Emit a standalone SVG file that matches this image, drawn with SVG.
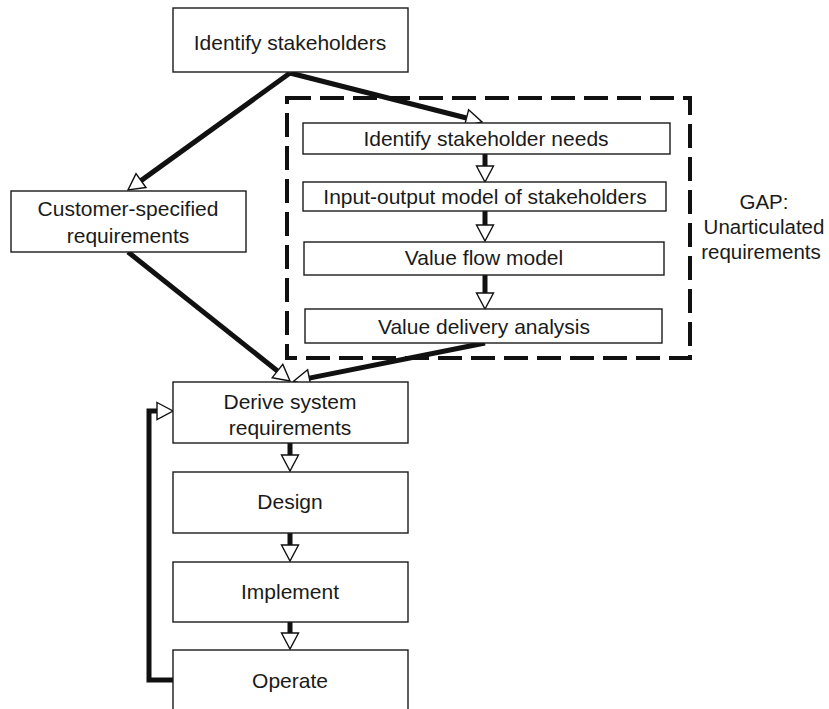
<svg xmlns="http://www.w3.org/2000/svg" width="829" height="709" viewBox="0 0 829 709">
<style>
.box{fill:#fff;stroke:#1a1a1a;stroke-width:1.4}
.t{font-family:"Liberation Sans",Arial,sans-serif;font-size:21px;fill:#1a1a1a;text-anchor:middle}
.g{font-size:20.5px}
.c{fill:none;stroke:#111;stroke-width:5}
.dash{fill:none;stroke:#111;stroke-width:4;stroke-dasharray:24 9}
</style>
<defs>
<marker id="ah" markerUnits="userSpaceOnUse" markerWidth="20" markerHeight="20" viewBox="-1 -10 19 20" refX="0" refY="0" orient="auto" overflow="visible">
<path d="M0,-8.5 L16,0 L0,8.5 Z" fill="#fff" stroke="#111" stroke-width="1.4"/>
</marker>
</defs>
<rect width="829" height="709" fill="#fff"/>
<g id="gap">
<rect class="dash" x="287" y="98" width="403" height="260"/>
<text class="t g" x="764" y="209">GAP:</text>
<text class="t g" x="764" y="234">Unarticulated</text>
<text class="t g" x="761" y="259">requirements</text>
</g>
<g id="connectors">
<path class="c" d="M290,73 L141,180.6" marker-end="url(#ah)"/>
<path class="c" d="M290,73 L466.5,118" marker-end="url(#ah)"/>
<path class="c" d="M128,252 L277.5,371" marker-end="url(#ah)"/>
<path class="c" d="M485,343 L309.3,378.1" marker-end="url(#ah)"/>
<path class="c" d="M485,154 V166" marker-end="url(#ah)"/>
<path class="c" d="M485,211 V225" marker-end="url(#ah)"/>
<path class="c" d="M485,275 V293" marker-end="url(#ah)"/>
<path class="c" d="M290,443 V455" marker-end="url(#ah)"/>
<path class="c" d="M290,533 V545" marker-end="url(#ah)"/>
<path class="c" d="M290,622 V633" marker-end="url(#ah)"/>
<path class="c" d="M173,680 H149 V411 H157" marker-end="url(#ah)"/>
</g>
<g id="identify-stakeholders">
<rect class="box" x="173" y="8" width="235" height="64"/>
<text class="t" x="290" y="50">Identify stakeholders</text>
</g>
<g id="customer-specified">
<rect class="box" x="11" y="191" width="235" height="61"/>
<text class="t" x="128" y="216">Customer-specified</text>
<text class="t" x="128" y="243">requirements</text>
</g>
<g id="stakeholder-needs">
<rect class="box" x="303" y="123" width="367" height="31"/>
<text class="t" x="486" y="146">Identify stakeholder needs</text>
</g>
<g id="input-output">
<rect class="box" x="303" y="182" width="363" height="29"/>
<text class="t" x="485" y="204">Input-output model of stakeholders</text>
</g>
<g id="value-flow">
<rect class="box" x="304" y="242" width="360" height="33"/>
<text class="t" x="484" y="265">Value flow model</text>
</g>
<g id="value-delivery">
<rect class="box" x="305" y="309" width="357" height="34"/>
<text class="t" x="484" y="334">Value delivery analysis</text>
</g>
<g id="derive">
<rect class="box" x="173" y="382" width="235" height="61"/>
<text class="t" x="290" y="409">Derive system</text>
<text class="t" x="290" y="435">requirements</text>
</g>
<g id="design">
<rect class="box" x="173" y="472" width="235" height="61"/>
<text class="t" x="290" y="509">Design</text>
</g>
<g id="implement">
<rect class="box" x="173" y="562" width="235" height="60"/>
<text class="t" x="290" y="599">Implement</text>
</g>
<g id="operate">
<rect class="box" x="173" y="650" width="235" height="65"/>
<text class="t" x="290" y="688">Operate</text>
</g>
</svg>
